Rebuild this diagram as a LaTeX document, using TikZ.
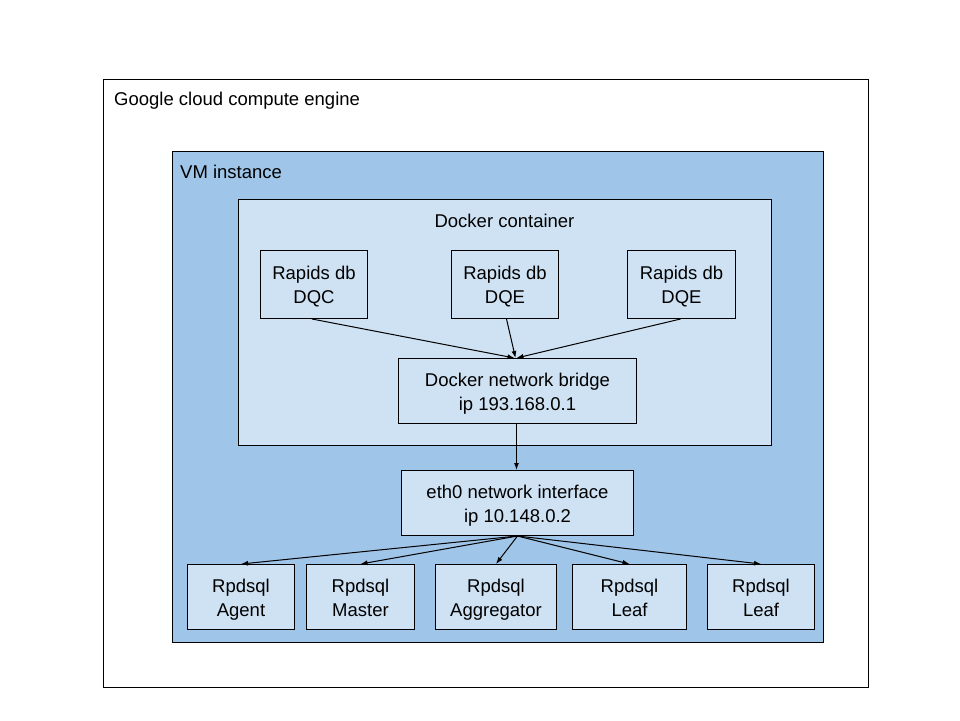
\documentclass[tikz,border=0pt]{standalone}
\usepackage{fontspec}
\setmainfont{Liberation Sans}
\usetikzlibrary{arrows.meta}
\definecolor{vmblue}{HTML}{9FC5E8}
\definecolor{lightblue}{HTML}{CFE2F3}
\newcommand{\tl}[2]{\rule{0pt}{22pt}#1\\\strut #2}
\begin{document}
\begin{tikzpicture}[x=1pt,y=-1pt,
  box/.style={draw=black,line width=1pt,rectangle,inner sep=0pt,anchor=north west,align=center,
    font=\fontsize{18.5}{24}\selectfont},
  lbl/.style={inner sep=0pt,font=\fontsize{18.5}{24}\selectfont},
  arr/.style={line width=1pt,-{Latex[length=7pt,width=5pt]}}]
\useasboundingbox (0,0) rectangle (960,720);
\fill[white] (0,0) rectangle (960,720);
% containers
\node[box,fill=white,minimum width=765pt,minimum height=608pt] (gce) at (103,79) {};
\node[box,fill=vmblue,minimum width=651pt,minimum height=491pt] (vm) at (172,151) {};
\node[box,fill=lightblue,minimum width=533pt,minimum height=246pt] (dc) at (238,199) {};
\node[lbl,anchor=west] (gcel) at (114,101) {Google cloud compute engine};
\node[lbl,anchor=west] (vml) at (180,172) {VM instance};
\node[lbl] (dcl) at (504.5,221) {Docker container};
% db nodes
\node[box,fill=lightblue,minimum width=107pt,minimum height=68pt] (dqc) at (260,250) {\tl{Rapids db}{DQC}};
\node[box,fill=lightblue,minimum width=107pt,minimum height=68pt] (dqe1) at (451,250) {\tl{Rapids db}{DQE}};
\node[box,fill=lightblue,minimum width=108pt,minimum height=68pt] (dqe2) at (627,250) {\tl{Rapids db}{DQE}};
\node[box,fill=lightblue,minimum width=238pt,minimum height=65pt] (br) at (398,358) {\tl{Docker network bridge}{ip 193.168.0.1}};
\node[box,fill=lightblue,minimum width=232pt,minimum height=65pt] (eth) at (401,470) {\tl{eth0 network interface}{ip 10.148.0.2}};
% bottom
\node[box,fill=lightblue,minimum width=107pt,minimum height=65pt] (agent) at (187,564) {\tl{Rpdsql}{Agent}};
\node[box,fill=lightblue,minimum width=108pt,minimum height=65pt] (master) at (306,564) {\tl{Rpdsql}{Master}};
\node[box,fill=lightblue,minimum width=121pt,minimum height=65pt] (aggr) at (435,564) {\tl{Rpdsql}{Aggregator}};
\node[box,fill=lightblue,minimum width=114pt,minimum height=65pt] (leaf1) at (572,564) {\tl{Rpdsql}{Leaf}};
\node[box,fill=lightblue,minimum width=107pt,minimum height=65pt] (leaf2) at (707,564) {\tl{Rpdsql}{Leaf}};
% arrows
\draw[arr] ([xshift=-2pt]dqc.south) -- ([xshift=-3pt]br.north);
\draw[arr] ([xshift=1.5pt]dqe1.south) -- ([xshift=-2pt]br.north);
\draw[arr] ([xshift=-1pt]dqe2.south) -- ([xshift=-1pt]br.north);
\draw[arr] ([xshift=-1pt]br.south) -- ([xshift=-1pt]eth.north);
\draw[arr] (eth.south) -- (agent.north);
\draw[arr] (eth.south) -- (master.north);
\draw[arr] (eth.south) -- (aggr.north);
\draw[arr] (eth.south) -- (leaf1.north);
\draw[arr] (eth.south) -- (leaf2.north);
\end{tikzpicture}
\end{document}
